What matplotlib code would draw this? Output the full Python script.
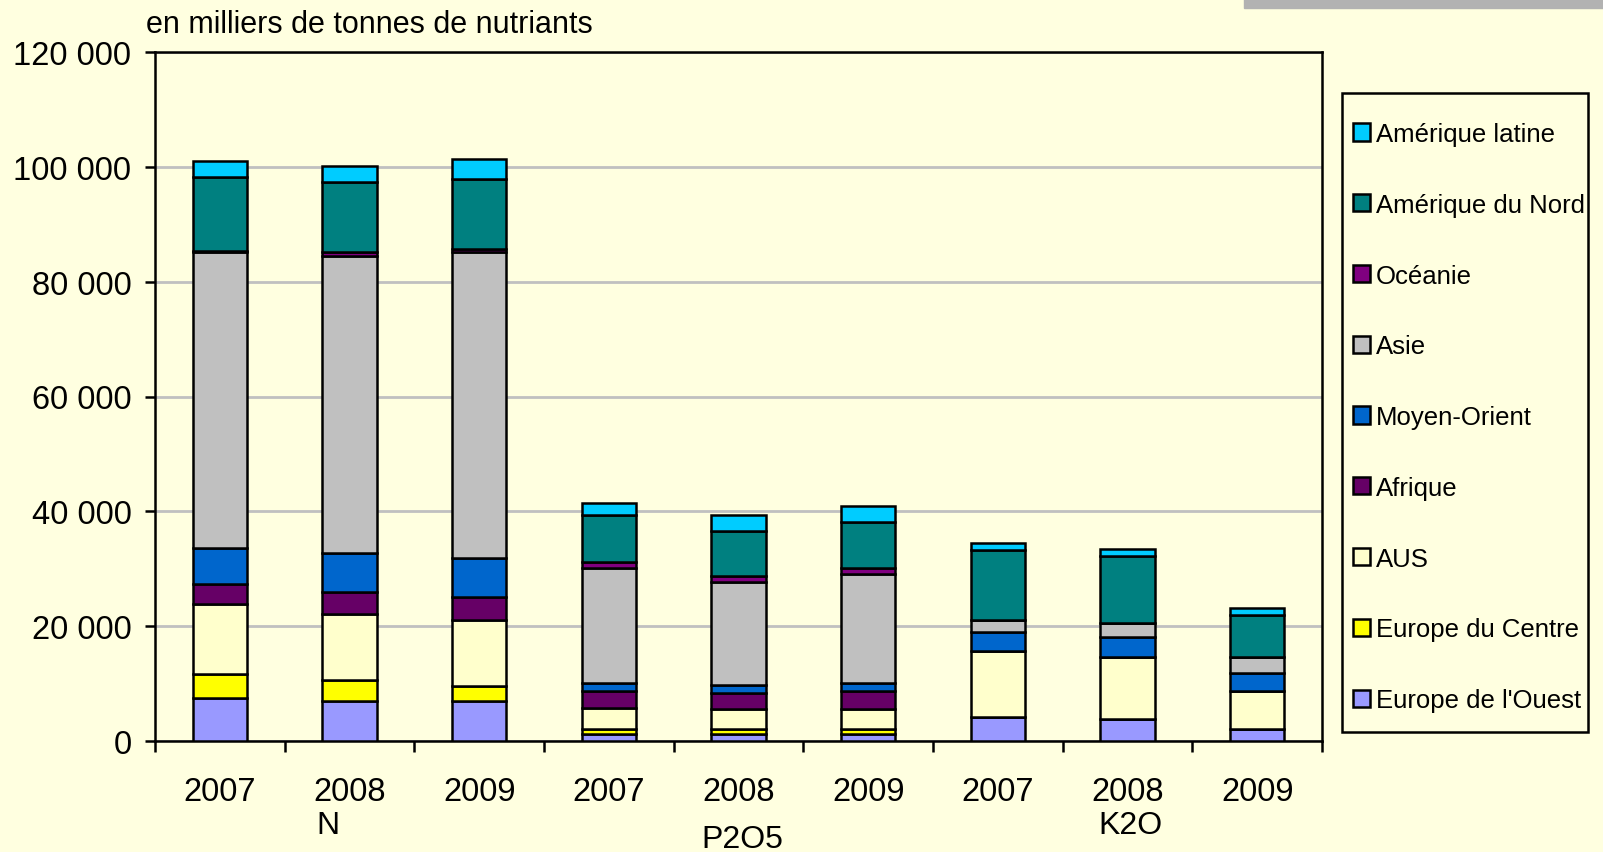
import matplotlib.pyplot as plt
import matplotlib.ticker as mticker
from matplotlib.patches import Rectangle
import numpy as np

plt.rcParams['font.family'] = ['Liberation Sans', 'DejaVu Sans']

# data (milliers de tonnes de nutriants)
years = ['2007', '2008', '2009'] * 3
groups = ['N', 'P2O5', 'K2O']
regions = ["Europe de l'Ouest", 'Europe du Centre', 'AUS', 'Afrique', 'Moyen-Orient',
           'Asie', 'Océanie', 'Amérique du Nord', 'Amérique latine']
eo = [7500, 6900, 6900, 1300, 1300, 1300, 4200, 3800, 2100]
ec = [4100, 3800, 2700, 800, 800, 800, 0, 0, 0]
aus = [12200, 11500, 11500, 3700, 3400, 3400, 11500, 10800, 6600]
afr = [3500, 3700, 3900, 2900, 2800, 3200, 0, 0, 0]
mo = [6300, 6800, 6900, 1400, 1500, 1400, 3200, 3600, 3200]
asie = [51500, 51700, 53300, 20000, 17900, 18900, 2100, 2400, 2800]
oce = [300, 800, 500, 1100, 1000, 1100, 0, 0, 0]
an = [12900, 12100, 12200, 8100, 7800, 8100, 12200, 11600, 7300]
al = [2700, 2800, 3500, 2200, 2800, 2800, 1200, 1200, 1200]
series = [eo, ec, aus, afr, mo, asie, oce, an, al]
colors = ['#9999FF', '#FFFF00', '#FFFFCC', '#660066', '#0066CC',
          '#C0C0C0', '#800080', '#008080', '#00CCFF']

bg = '#FFFFE0'
fig = plt.figure(figsize=(16.03, 8.53), dpi=100, facecolor=bg)
ax = fig.add_axes([155/1603, 1-742/853, (1322-155)/1603, (742-53)/853])
ax.set_facecolor(bg)

x = np.arange(len(years))
bottom = np.zeros(len(years))
handles = []
for vals, col, lab in zip(series, colors, regions):
    b = ax.bar(x, vals, 0.42, bottom=bottom, color=col, edgecolor='black',
               linewidth=1.8, label=lab, zorder=3)
    handles.append(b)
    bottom += np.array(vals)

ax.set_xlim(-0.5, 8.5)
ax.set_ylim(0, 120000)
ax.yaxis.set_major_locator(mticker.MultipleLocator(20000))
ax.yaxis.set_major_formatter(mticker.FuncFormatter(lambda v, p: f"{int(v):,}".replace(",", " ")))
ax.grid(axis='y', color='#C0C0C0', linewidth=2, zorder=0)

ax.set_xticks(x)
ax.set_xticklabels(years)
ax.set_xticks(np.arange(-0.5, 9, 1), minor=True)
ax.tick_params(axis='x', which='major', length=0, pad=25, labelsize=23.5)
ax.tick_params(axis='x', which='minor', length=8, width=1.8, direction='out')
ax.tick_params(axis='y', length=7, width=1.8, pad=10, labelsize=23.5)
for s in ax.spines.values():
    s.set_linewidth(1.8)
    s.set_color('black')

# group labels
for gx, gy, g in [(0.83, -0.122, 'N'), (4.03, -0.142, 'P2O5'), (7.02, -0.122, 'K2O')]:
    ax.text(gx, gy, g, transform=ax.get_xaxis_transform(), ha='center', va='center', fontsize=23)

fig.text(146/1603, 1-25/853, 'en milliers de tonnes de nutriants', fontsize=22, va='center')

# legend box drawn separately
fig.patches.append(Rectangle((1342/1603, 1-733/853), (1588-1342)/1603, (733-94)/853,
                             transform=fig.transFigure, facecolor=bg, edgecolor='black',
                             linewidth=1.8, zorder=1))
leg = fig.legend(handles[::-1], regions[::-1], loc='upper left',
                 bbox_to_anchor=(1353/1603, 1-123/853), bbox_transform=fig.transFigure,
                 fontsize=18.5, frameon=False, labelspacing=1.82, handlelength=0.65,
                 handleheight=0.65, handletextpad=0.25, borderpad=0, borderaxespad=0)

fig.patches.append(Rectangle((1244/1603, 1-9/853), 1-1244/1603, 9/853,
                             transform=fig.transFigure, color='#B2B2B2', zorder=0))

fig.savefig('out.png', dpi=100, facecolor=bg)
